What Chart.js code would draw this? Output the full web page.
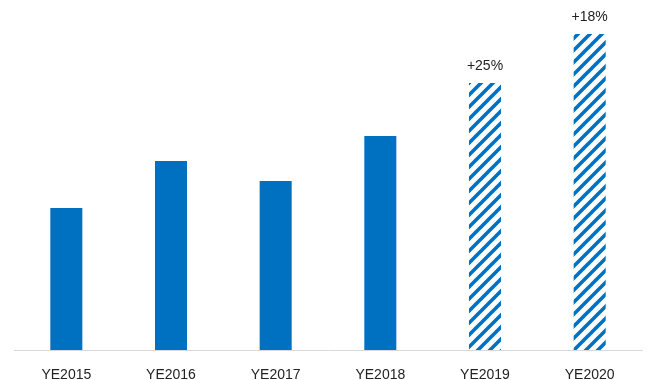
<!DOCTYPE html>
<html>
<head>
<meta charset="utf-8">
<script src="https://cdn.jsdelivr.net/npm/chart.js@4"></script>
<style>
  html, body { margin: 0; padding: 0; background: #fff; overflow: hidden; }
  canvas { display: block; }
</style>
</head>
<body>
<canvas id="chart" width="651" height="380"></canvas>
<script>
const categories = ["YE2015", "YE2016", "YE2017", "YE2018", "YE2019", "YE2020"];
const values = [142, 189, 169, 214, 267, 316];
const growthLabels = ["", "", "", "", "+25%", "+18%"];
const isForecast = [false, false, false, false, true, true];

const blue = "#0070C0";

// diagonal stripes for forecast years
function makeStripes() {
  const s = 12;
  const c = document.createElement("canvas");
  c.width = s;
  c.height = s;
  const g = c.getContext("2d");
  g.fillStyle = "#fff";
  g.fillRect(0, 0, s, s);
  g.strokeStyle = blue;
  g.lineWidth = 3.6;
  g.beginPath();
  g.moveTo(-2, s + 2); g.lineTo(s + 2, -2);
  g.moveTo(-s - 2, s + 2); g.lineTo(s + 2, -s - 2);
  g.moveTo(-2, 2 * s + 2); g.lineTo(2 * s + 2, -2);
  g.stroke();
  return g.createPattern(c, "repeat");
}
const stripes = makeStripes();

const growthPlugin = {
  id: "growthPlugin",
  afterDatasetsDraw(chart) {
    const ctx = chart.ctx;
    const meta = chart.getDatasetMeta(0);
    ctx.save();
    ctx.font = "14px 'Liberation Sans', Arial, sans-serif";
    ctx.fillStyle = "#222";
    ctx.textAlign = "center";
    ctx.textBaseline = "middle";
    meta.data.forEach((bar, i) => {
      if (growthLabels[i]) ctx.fillText(growthLabels[i], bar.x, bar.y - 17);
    });
    ctx.restore();
  },
};

new Chart(document.getElementById("chart"), {
  type: "bar",
  data: {
    labels: categories,
    datasets: [
      {
        data: values,
        backgroundColor: isForecast.map((f) => (f ? stripes : blue)),
        borderWidth: 0,
        barPercentage: 0.306,
        categoryPercentage: 1,
      },
    ],
  },
  options: {
    responsive: false,
    animation: false,
    layout: { padding: { top: 20, left: 14, right: 9, bottom: 0 } },
    plugins: { legend: { display: false }, tooltip: { enabled: false } },
    scales: {
      x: {
        grid: { display: false, drawTicks: false },
        border: { color: "#D9D9D9", width: 1 },
        ticks: {
          color: "#222",
          padding: 17,
          font: { family: "'Liberation Sans', Arial, sans-serif", size: 14 },
        },
        afterFit: (scale) => {
          scale.height = 30;
        },
      },
      y: { display: false, min: 0, max: 330 },
    },
  },
  plugins: [growthPlugin],
});
</script>
</body>
</html>
